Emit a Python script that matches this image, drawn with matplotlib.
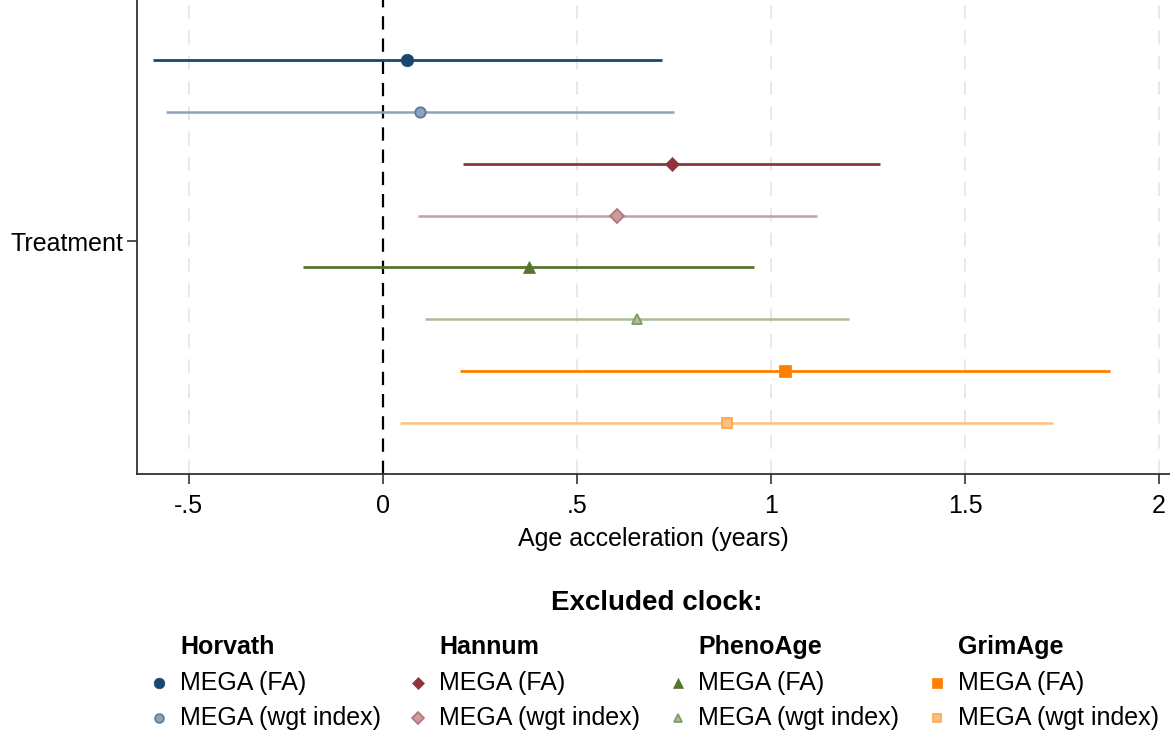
import matplotlib
matplotlib.use("Agg")
import matplotlib.pyplot as plt
from matplotlib.lines import Line2D

plt.rcParams['font.family'] = ['Liberation Sans', 'DejaVu Sans']

clocks = ["Horvath", "Hannum", "PhenoAge", "GrimAge"]
variants = ["MEGA (FA)", "MEGA (wgt index)"]
est = [0.062, 0.095, 0.745, 0.603, 0.376, 0.655, 1.036, 0.887]
lo = [-0.593, -0.559, 0.206, 0.090, -0.206, 0.108, 0.198, 0.044]
hi = [0.719, 0.750, 1.281, 1.119, 0.956, 1.201, 1.874, 1.727]
colors = ["#1a476f", "#8ca3bb", "#90353b", "#c99ca0", "#55752f", "#a9bd97", "#ff7f00", "#ffbf80"]
edgecolors = ["#1a476f", "#5c7b9c", "#90353b", "#b27379", "#55752f", "#7f9a65", "#ff7f00", "#ffa64d"]
markers = ["o", "o", "D", "D", "^", "^", "s", "s"]
msizes = [9, 7.5, 7.5, 7, 8.5, 7, 8, 7]
xticks = [-0.5, 0, 0.5, 1, 1.5, 2]
xticklabels = ["-.5", "0", ".5", "1", "1.5", "2"]

fig = plt.figure(figsize=(11.7, 7.35), dpi=100)
ax = fig.add_axes([0.117, 0.355, 0.883, 0.645])

n = len(est)
offsets = [0.35 - i * 0.1 for i in range(n)]
for i in range(n):
    y = 1 + offsets[i]
    ax.plot([lo[i], hi[i]], [y, y], color=colors[i], lw=2.0 if i % 2 == 0 else 1.8, zorder=3,
            solid_capstyle='butt')
    ax.plot([est[i]], [y], marker=markers[i], color=colors[i], ms=msizes[i], zorder=4,
            markeredgecolor=edgecolors[i], markeredgewidth=1.3 if i % 2 else 0.5)

for xt in [-0.5, 0.5, 1, 1.5, 2]:
    ax.axvline(xt, color="#e8e8e8", lw=1.4, ls=(0, (7, 6)), zorder=1)
ax.axvline(0, color="black", lw=1.6, ls=(0, (6, 4)), zorder=2)

ax.set_xlim(-0.634, 2.028)
ax.set_ylim(0.551, 1.466)
ax.set_xticks(xticks)
ax.set_xticklabels(xticklabels, fontsize=18)
ax.set_yticks([1])
ax.set_yticklabels(["Treatment"], fontsize=18)
ax.tick_params(axis='both', length=7, width=1.2, color='#333333')
ax.tick_params(axis='x', pad=7)
ax.tick_params(axis='y', pad=3)
ax.set_xlabel("Age acceleration (years)", fontsize=18, labelpad=7)
for s in ["top", "right"]:
    ax.spines[s].set_visible(False)
for s in ["left", "bottom"]:
    ax.spines[s].set_linewidth(1.3)
    ax.spines[s].set_color('#333333')

# Legend
W, H = 1170, 735
def fx(px):
    return px / W
def fy(py):
    return 1 - py / H

fig.text(fx(657), fy(603), "Excluded clock:", fontsize=20, fontweight='bold', ha='center', va='center')
col_marker_x = [159, 418, 678, 937]
col_text_x = [180, 439, 698, 958]
for c in range(4):
    fig.text(fx(col_text_x[c]), fy(647), clocks[c], fontsize=18, fontweight='bold', ha='left', va='center')
    for v in range(2):
        i = 2 * c + v
        py = 683 + v * 35
        fig.add_artist(Line2D([fx(col_marker_x[c])], [fy(py)], marker=markers[i], color=colors[i],
                              ms=msizes[i] * 0.85, markeredgecolor=edgecolors[i],
                              markeredgewidth=1.2 if v else 0.5, transform=fig.transFigure))
        fig.text(fx(col_text_x[c]), fy(py), variants[v], fontsize=18, ha='left', va='center')

fig.savefig("out.png", dpi=100)
